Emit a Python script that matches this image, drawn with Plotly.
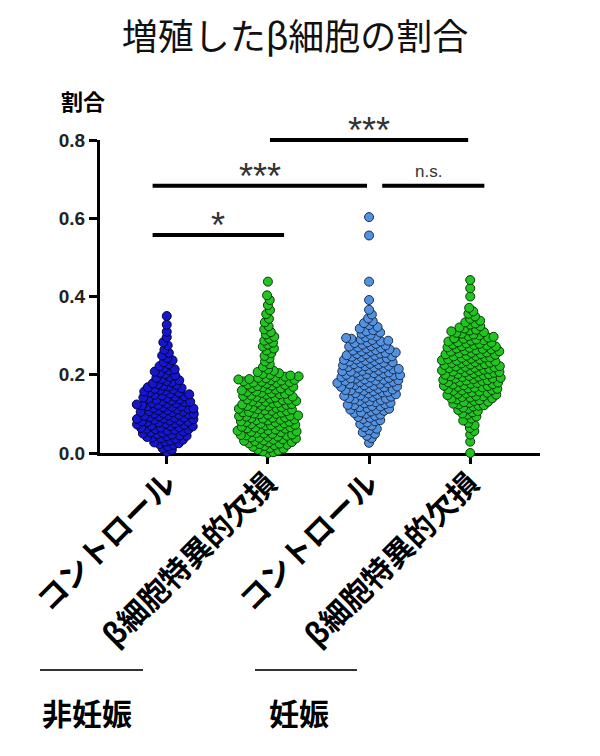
import numpy as np
import plotly.graph_objects as go

# group labels / values
categories = ["コントロール", "β細胞特異的欠損", "コントロール", "β細胞特異的欠損"]
pregnancy = ["非妊娠", "妊娠"]

ctrl_nonpreg = [
    0.003, 0.008, 0.012, 0.017,
    0.021, 0.023, 0.025, 0.027, 0.029, 0.032, 0.034, 0.036, 0.038,
    0.040, 0.041, 0.043, 0.044, 0.045, 0.047, 0.048, 0.050, 0.052, 0.053, 0.055, 0.057, 0.059,
    0.060, 0.061, 0.062, 0.064, 0.065, 0.066, 0.068, 0.069, 0.070, 0.072, 0.073, 0.075, 0.076, 0.078, 0.079,
    0.080, 0.081, 0.082, 0.083, 0.085, 0.086, 0.087, 0.088, 0.090, 0.091, 0.092, 0.094, 0.095, 0.096, 0.098, 0.099,
    0.100, 0.101, 0.102, 0.104, 0.105, 0.106, 0.107, 0.109, 0.110, 0.111, 0.113, 0.114, 0.115, 0.117, 0.118, 0.119,
    0.120, 0.122, 0.123, 0.124, 0.126, 0.127, 0.128, 0.130, 0.131, 0.133, 0.134, 0.136, 0.137, 0.139,
    0.141, 0.142, 0.144, 0.145, 0.147, 0.149, 0.150, 0.152, 0.154, 0.155, 0.157, 0.159,
    0.161, 0.163, 0.164, 0.166, 0.168, 0.170, 0.172, 0.174, 0.176, 0.178,
    0.181, 0.184, 0.186, 0.189, 0.192, 0.195, 0.198,
    0.202, 0.205, 0.208, 0.211, 0.214, 0.218,
    0.222, 0.227, 0.232, 0.237,
    0.243, 0.249, 0.256,
    0.264, 0.275, 0.283, 0.296,
    0.310, 0.328, 0.350,
]

ko_nonpreg = [
    0.000, 0.002, 0.004, 0.006, 0.009, 0.011, 0.013, 0.016, 0.018,
    0.020, 0.021, 0.023, 0.024, 0.025, 0.027, 0.028, 0.030, 0.031, 0.032, 0.034, 0.035, 0.037, 0.039,
    0.040, 0.041, 0.042, 0.044, 0.045, 0.046, 0.047, 0.049, 0.050, 0.051, 0.053, 0.054, 0.055, 0.057, 0.058,
    0.060, 0.061, 0.062, 0.063, 0.065, 0.066, 0.067, 0.068, 0.070, 0.071, 0.072, 0.074, 0.075, 0.076, 0.078, 0.079,
    0.080, 0.081, 0.083, 0.084, 0.085, 0.086, 0.088, 0.089, 0.090, 0.091, 0.093, 0.094, 0.095, 0.096, 0.098, 0.099,
    0.100, 0.101, 0.103, 0.104, 0.105, 0.107, 0.108, 0.109, 0.111, 0.112, 0.113, 0.115, 0.116, 0.117, 0.119,
    0.120, 0.121, 0.123, 0.124, 0.125, 0.127, 0.128, 0.129, 0.131, 0.132, 0.133, 0.135, 0.136, 0.137, 0.139,
    0.140, 0.142, 0.143, 0.144, 0.146, 0.147, 0.149, 0.150, 0.151, 0.153, 0.154, 0.156, 0.157, 0.159,
    0.160, 0.162, 0.163, 0.165, 0.166, 0.168, 0.169, 0.171, 0.172, 0.174, 0.175, 0.177, 0.179,
    0.180, 0.181, 0.182, 0.183, 0.185, 0.186, 0.187, 0.188, 0.189, 0.191, 0.192, 0.194, 0.195, 0.196, 0.198,
    0.200, 0.202, 0.204, 0.207, 0.210, 0.214,
    0.220, 0.227, 0.234,
    0.242, 0.248, 0.255,
    0.262, 0.267, 0.272, 0.277,
    0.282, 0.287, 0.292, 0.297,
    0.303, 0.309, 0.316, 0.324, 0.334, 0.343, 0.355,
    0.365, 0.378, 0.391, 0.403, 0.438,
]

ctrl_preg = [
    0.026, 0.038,
    0.044, 0.049, 0.053, 0.058,
    0.062, 0.066, 0.070, 0.074, 0.078,
    0.081, 0.084, 0.087, 0.090, 0.092, 0.095, 0.098,
    0.100, 0.102, 0.104, 0.106, 0.108, 0.110, 0.111, 0.113, 0.115, 0.117, 0.119,
    0.120, 0.122, 0.123, 0.125, 0.127, 0.128, 0.130, 0.132, 0.133, 0.135, 0.137, 0.139,
    0.140, 0.141, 0.143, 0.144, 0.146, 0.147, 0.149, 0.150, 0.152, 0.153, 0.155, 0.156, 0.158, 0.159,
    0.160, 0.161, 0.162, 0.164, 0.165, 0.166, 0.168, 0.169, 0.170, 0.172, 0.173, 0.174, 0.176, 0.177, 0.178, 0.179,
    0.180, 0.181, 0.182, 0.184, 0.185, 0.186, 0.187, 0.188, 0.190, 0.191, 0.192, 0.193, 0.194, 0.196, 0.197, 0.198, 0.199,
    0.200, 0.201, 0.203, 0.204, 0.205, 0.206, 0.208, 0.209, 0.210, 0.211, 0.213, 0.214, 0.215, 0.217, 0.218, 0.219,
    0.220, 0.222, 0.223, 0.224, 0.226, 0.227, 0.228, 0.230, 0.231, 0.232, 0.234, 0.235, 0.236, 0.238, 0.239,
    0.240, 0.242, 0.243, 0.245, 0.246, 0.247, 0.249, 0.250, 0.252, 0.253, 0.254, 0.256, 0.257, 0.259,
    0.260, 0.262, 0.263, 0.265, 0.267, 0.268, 0.270, 0.272, 0.273, 0.275, 0.277, 0.279,
    0.281, 0.283, 0.285, 0.287, 0.289, 0.290, 0.292, 0.294, 0.296, 0.298,
    0.302, 0.305, 0.308, 0.311, 0.314, 0.318,
    0.322, 0.327, 0.332, 0.337,
    0.344, 0.354, 0.366,
    0.391, 0.438, 0.556, 0.603,
]

ko_preg = [
    0.000, 0.029, 0.047, 0.056,
    0.064, 0.071, 0.077,
    0.083, 0.088, 0.093, 0.098,
    0.101, 0.104, 0.107, 0.110, 0.113, 0.116, 0.119,
    0.121, 0.122, 0.124, 0.126, 0.128, 0.130, 0.131, 0.133, 0.135, 0.137, 0.139,
    0.140, 0.142, 0.143, 0.145, 0.146, 0.148, 0.149, 0.151, 0.152, 0.154, 0.155, 0.157, 0.159,
    0.160, 0.161, 0.163, 0.164, 0.165, 0.167, 0.168, 0.169, 0.171, 0.172, 0.173, 0.175, 0.176, 0.177, 0.179,
    0.180, 0.181, 0.182, 0.184, 0.185, 0.186, 0.187, 0.189, 0.190, 0.191, 0.192, 0.194, 0.195, 0.196, 0.197, 0.199,
    0.200, 0.201, 0.202, 0.203, 0.205, 0.206, 0.207, 0.208, 0.209, 0.211, 0.212, 0.213, 0.214, 0.215, 0.217, 0.218, 0.219,
    0.220, 0.221, 0.222, 0.224, 0.225, 0.226, 0.227, 0.229, 0.230, 0.231, 0.232, 0.234, 0.235, 0.236, 0.237, 0.239,
    0.240, 0.241, 0.243, 0.244, 0.245, 0.247, 0.248, 0.249, 0.251, 0.252, 0.253, 0.255, 0.256, 0.257, 0.259,
    0.260, 0.262, 0.263, 0.265, 0.266, 0.267, 0.269, 0.270, 0.272, 0.273, 0.275, 0.276, 0.277, 0.279,
    0.280, 0.282, 0.283, 0.285, 0.287, 0.288, 0.290, 0.292, 0.293, 0.295, 0.297, 0.299,
    0.301, 0.303, 0.305, 0.307, 0.309, 0.311, 0.313, 0.315, 0.318,
    0.321, 0.324, 0.328, 0.331, 0.334, 0.338,
    0.343, 0.349, 0.356, 0.362, 0.371,
    0.400, 0.421, 0.442,
]

groups = [ctrl_nonpreg, ko_nonpreg, ctrl_preg, ko_preg]

# significance brackets: (x start, x end, height, label)
brackets = [
    (-0.14, 1.16, 0.557, "*"),
    (-0.14, 1.98, 0.683, "***"),
    (2.13, 3.14, 0.683, "n.s."),
    (1.02, 2.98, 0.800, "***"),
]

fill_colors = ["#1616cc", "#22c422", "#5392e0", "#22c422"]
edge_colors = ["#04043a", "#063a06", "#1b2d4d", "#063a06"]

W, H = 600, 756
PAGE = 8  # body margin of the page around the figure
ML, MT = 92, 132
PW, PH = 440, 313
MR, MB = W - ML - PW, H - MT - PH
XR = [-0.66, 3.69]
YR = [0, 0.8]
px_x = PW / (XR[1] - XR[0])
px_y = PH / (YR[1] - YR[0])


def px_to_paper(sx, sy):
    return (sx - PAGE - ML) / PW, (H - MB - (sy - PAGE)) / PH


def swarm(vals, d=5.4):
    # simple beeswarm: put each point as near the centre as it can go
    vals = np.asarray(vals)
    out = np.zeros(len(vals))
    placed = []
    for i in np.argsort(vals, kind="stable"):
        y = vals[i] * px_y
        near = [(py, px) for py, px in placed if abs(py - y) < d]
        cands = [0.0]
        for py, px in near:
            dx = np.sqrt(d * d - (py - y) ** 2)
            cands += [px + dx, px - dx]
        cands.sort(key=lambda c: (round(abs(c), 6), -c))
        for c in cands:
            if all((c - px) ** 2 + (py - y) ** 2 >= d * d - 1e-6 for py, px in near):
                out[i] = c
                placed.append((y, c))
                break
    return out / px_x


fig = go.Figure()
for i, vals in enumerate(groups):
    fig.add_trace(go.Scatter(
        x=i + swarm(vals), y=vals, mode="markers", cliponaxis=False,
        marker=dict(size=9, color=fill_colors[i],
                    line=dict(color=edge_colors[i], width=1)),
        showlegend=False, hoverinfo="y"))

for x0, x1, h, lab in brackets:
    fig.add_shape(type="line", xref="x", yref="paper", x0=x0, x1=x1,
                  y0=h / YR[1], y1=h / YR[1], line=dict(color="black", width=4))
    if lab == "n.s.":
        fig.add_annotation(x=(x0 + x1) / 2 - 0.05, y=h, xref="x", yref="y", text=lab,
                           showarrow=False, xanchor="center", yanchor="bottom", yshift=3,
                           font=dict(family="Arial", size=17, color="#333"))
    else:
        fig.add_annotation(x=(x0 + x1) / 2, y=h, xref="x", yref="y", text=lab,
                           showarrow=False, xanchor="center", yanchor="bottom", yshift=-13,
                           font=dict(family="Arial", size=36, color="#333"))

# pregnancy group labels under the axis
for lab, sx0, sx1, sxc in zip(pregnancy, [40, 255], [143, 357], [87, 299]):
    p0, py = px_to_paper(sx0, 670)
    p1, _ = px_to_paper(sx1, 670)
    fig.add_shape(type="line", xref="paper", yref="paper", x0=p0, x1=p1, y0=py, y1=py,
                  line=dict(color="#333", width=2))
    tx, ty = px_to_paper(sxc, 712)
    fig.add_annotation(xref="paper", yref="paper", x=tx, y=ty, text=lab, showarrow=False,
                       xanchor="center", yanchor="middle",
                       font=dict(family="Noto Sans CJK JP", size=30, color="black", weight="bold"))

lx, ly = px_to_paper(83, 100)
fig.add_annotation(xref="paper", yref="paper", x=lx, y=ly, text="割合", showarrow=False,
                   xanchor="center", yanchor="middle",
                   font=dict(family="Noto Sans CJK JP", size=22, color="black", weight="bold"))

fig.update_layout(
    width=W, height=H, margin=dict(l=ML, r=MR, t=MT, b=MB),
    plot_bgcolor="white", paper_bgcolor="white",
    title=dict(text="増殖したβ細胞の割合", x=(295 - PAGE) / W, xref="container",
               xanchor="center", y=1 - (37 - PAGE) / H, yanchor="middle",
               font=dict(family="Noto Sans CJK JP", size=36, color="#111")),
)
fig.update_xaxes(range=XR, tickvals=[0, 1, 2, 3], ticktext=categories, tickangle=-45,
                 showline=True, linecolor="black", linewidth=3, ticks="outside",
                 ticklen=8, tickwidth=3, tickcolor="black", showgrid=False, zeroline=False,
                 layer="below traces", automargin=False, ticklabelstandoff=-10,
                 tickfont=dict(family="Noto Sans CJK JP", size=30, color="black", weight="bold"))
fig.update_yaxes(range=YR, tickvals=[0, 0.2, 0.4, 0.6, 0.8], tickformat=".1f",
                 showline=True, linecolor="black", linewidth=3, ticks="outside",
                 ticklen=8, tickwidth=3, tickcolor="black", showgrid=False, zeroline=False,
                 layer="below traces", automargin=False,
                 tickfont=dict(family="Arial", size=19, color="#222", weight="bold"))

fig.write_html("out.html")
